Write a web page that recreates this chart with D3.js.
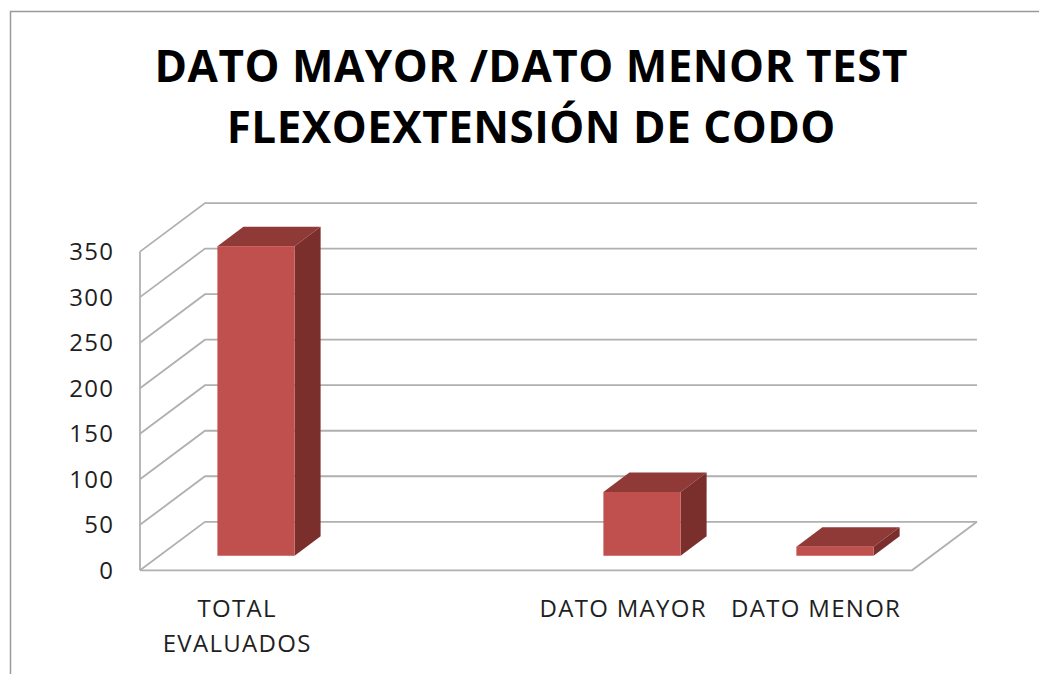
<!DOCTYPE html>
<html>
<head>
<meta charset="utf-8">
<script src="https://cdn.jsdelivr.net/npm/d3@7"></script>
<style>
  html, body { margin: 0; padding: 0; background: #ffffff; }
  svg { display: block; }
</style>
</head>
<body>
<svg id="chart" width="1039" height="674"></svg>
<script>
// ---- data ----
const titleLines = ["DATO MAYOR /DATO MENOR TEST", "FLEXOEXTENSIÓN DE CODO"];
const categories = ["TOTAL EVALUADOS", "", "DATO MAYOR", "DATO MENOR"];
const values = [340, null, 70, 10];
const yTicks = [0, 50, 100, 150, 200, 250, 300, 350];

// ---- layout ----
const W = 1039, H = 674;
const svg = d3.select("#chart");

const frontLeft = 140, frontRight = 912;
const floorY = 570.3, topY = 251.6;
const depthDx = 65, depthDy = -48.5;
const gridRight = 977;
const barZ0 = 0.3, barZ1 = 0.7;

const x = d3.scaleBand()
  .domain(categories.map((c, i) => i))
  .range([frontLeft, frontRight])
  .paddingInner(0.6)
  .paddingOuter(0.3);

const xSlot = d3.scaleBand()
  .domain(categories.map((c, i) => i))
  .range([frontLeft, frontRight]);

const y = d3.scaleLinear().domain([0, 350]).range([floorY, topY]);

// outer border
svg.append("path")
  .attr("d", `M10.5,${H} L10.5,11.5 L${W},11.5`)
  .attr("fill", "none")
  .attr("stroke", "#9a9a9a")
  .attr("stroke-width", 1.5);

// title
const tls = 0.5;
svg.append("g").selectAll("text")
  .data(titleLines)
  .join("text")
  .attr("x", 531 + tls / 2)
  .attr("y", (d, i) => 82 + i * 61)
  .attr("text-anchor", "middle")
  .attr("font-family", "'Open Sans', sans-serif")
  .attr("font-weight", "bold")
  .attr("font-size", 44)
  .attr("letter-spacing", tls)
  .attr("fill", "#000")
  .text(d => d);

// walls & gridlines
const gridColor = "#b0b0b0";
const grid = svg.append("g").attr("fill", "none").attr("stroke", gridColor).attr("stroke-width", 1.8);

yTicks.forEach(t => {
  const yf = y(t);
  grid.append("path")
    .attr("d", `M${frontLeft},${yf} L${frontLeft + depthDx},${yf + depthDy} L${gridRight},${yf + depthDy}`);
});
// left front vertical edge
grid.append("path").attr("d", `M${frontLeft},${y(0)} L${frontLeft},${y(350)}`);
// floor front and right edge
grid.append("path")
  .attr("d", `M${frontLeft},${y(0)} L${frontRight},${y(0)} L${gridRight},${y(0) + depthDy}`);

// y tick labels
const ls = 1.3;
svg.append("g").selectAll("text")
  .data(yTicks)
  .join("text")
  .attr("x", 113 + ls)
  .attr("y", d => y(d) + 8.5)
  .attr("text-anchor", "end")
  .attr("font-family", "'Open Sans', sans-serif")
  .attr("font-size", 24)
  .attr("letter-spacing", ls)
  .attr("fill", "#1f1f1f")
  .text(d => d);

// bars
const barData = categories.map((c, i) => ({ i, c, v: values[i] })).filter(d => d.v != null);
const bars = svg.append("g");
barData.forEach(d => {
  const ox = barZ0 * depthDx, oy = barZ0 * depthDy;
  const bdx = (barZ1 - barZ0) * depthDx, bdy = (barZ1 - barZ0) * depthDy;
  const x0 = x(d.i) + ox, x1 = x0 + x.bandwidth();
  const yb = y(0) + oy, yt = y(d.v) + oy;
  // top
  bars.append("path")
    .attr("d", `M${x0},${yt} L${x0 + bdx},${yt + bdy} L${x1 + bdx},${yt + bdy} L${x1},${yt} Z`)
    .attr("fill", "#8f3a37");
  // side
  bars.append("path")
    .attr("d", `M${x1},${yt} L${x1 + bdx},${yt + bdy} L${x1 + bdx},${yb + bdy} L${x1},${yb} Z`)
    .attr("fill", "#7b2f2d");
  // front
  bars.append("rect")
    .attr("x", x0).attr("y", yt)
    .attr("width", x1 - x0).attr("height", yb - yt)
    .attr("fill", "#c0504d");
});

// category labels
const catG = svg.append("g")
  .attr("font-family", "'Open Sans', sans-serif")
  .attr("font-size", 24)
  .attr("letter-spacing", ls)
  .attr("fill", "#1f1f1f");
categories.forEach((c, i) => {
  if (!c) return;
  const cx = xSlot(i) + xSlot.bandwidth() / 2 + ls / 2;
  const t = catG.append("text").attr("text-anchor", "middle").attr("x", cx).attr("y", 617.3);
  t.text(c);
  if (t.node().getComputedTextLength() > xSlot.bandwidth()) {
    const words = c.split(" ");
    t.text(null);
    words.forEach((w, k) => {
      t.append("tspan").attr("x", cx).attr("y", 617.3 + k * 34.4).text(w);
    });
  }
});
</script>
</body>
</html>
